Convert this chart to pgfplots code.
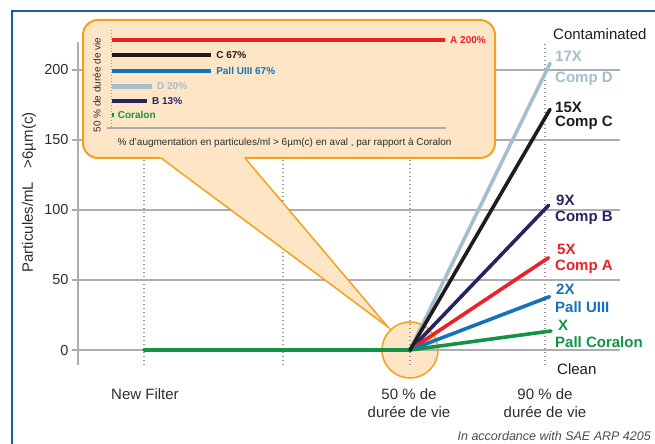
\documentclass[border=0pt]{standalone}
\usepackage{fontspec}
\setmainfont{Liberation Sans}
\usepackage{pgfplots}
\pgfplotsset{compat=1.18}
\definecolor{frameblue}{RGB}{22,92,170}
\definecolor{gridgray}{RGB}{172,173,177}
\definecolor{dotgray}{RGB}{150,150,155}
\definecolor{txt}{RGB}{45,45,45}
\definecolor{cgreen}{RGB}{18,148,70}
\definecolor{cblue}{RGB}{22,114,186}
\definecolor{cred}{RGB}{236,32,39}
\definecolor{cnavy}{RGB}{40,36,100}
\definecolor{cblack}{RGB}{30,28,30}
\definecolor{clight}{RGB}{163,190,204}
\definecolor{corange}{RGB}{246,160,32}
\definecolor{cfill}{RGB}{253,229,198}
\newcommand{\fA}{\fontsize{15bp}{17bp}\selectfont}
\newcommand{\fB}{\fontsize{14.5bp}{16bp}\selectfont}
\newcommand{\fI}{\fontsize{10bp}{11bp}\selectfont}
\newcommand{\fS}{\fontsize{12.5bp}{14bp}\selectfont}
\begin{document}
\begin{tikzpicture}[x=1bp,y=1bp]
\useasboundingbox (0,0) rectangle (655,444);
% frame
\draw[frameblue, line width=2.5bp] (12,0) -- (12,433) -- (655,433);
% highlight circle (behind grid)
\filldraw[fill=cfill, draw=corange, line width=1.5bp] (410,94) circle (28);
\begin{axis}[at={(78bp,79bp)}, anchor=south west, scale only axis,
  width=542bp, height=323bp,
  xmin=78, xmax=620, ymin=-10.7, ymax=220,
  axis lines=left, axis line style={-},
  x axis line style={draw=none},
  y axis line style={gridgray, line width=1.6bp},
  xtick={144,283,410,545}, xticklabels={}, xtick style={draw=none},
  ytick={0,50,100,150,200},
  ytick style={gridgray, line width=1.3bp},
  tick align=outside, major tick length=6bp,
  grid=major,
  x grid style={dotgray, line width=1.3bp, dash pattern=on 1.3bp off 2.7bp},
  y grid style={gridgray, line width=1.3bp},
  yticklabel style={font=\fB, text=txt},
  /pgf/number format/assume math mode=true,
  clip=false]
\addplot[clight, line width=3.6bp, line cap=round, line join=round] coordinates {(410,0) (550,204.8)};
\addplot[cnavy, line width=3.6bp, line cap=round, line join=round] coordinates {(410,0) (548.5,103.3)};
\addplot[cred, line width=3.6bp, line cap=round, line join=round] coordinates {(410,0) (548.5,65.9)};
\addplot[cblue, line width=3.6bp, line cap=round, line join=round] coordinates {(410,0) (549.5,38.1)};
\addplot[cgreen, line width=3.6bp, line cap=round, line join=round] coordinates {(144,0) (410,0) (551,13.6)};
\addplot[cblack, line width=3.6bp, line cap=round, line join=round] coordinates {(410,0) (550,171.9)};
\end{axis}
% callout box
\filldraw[fill=cfill, draw=corange, line width=2bp, rounded corners=15bp] (83,286) rectangle (495,424);
\fill[cfill] (155.6,290) -- (388,117) -- (241.6,290) -- cycle;
\draw[corange, line width=1.5bp] (161,286) -- (388,117) -- (245,286);
% inset bar chart
\begin{axis}[at={(107bp,316bp)}, anchor=south west, scale only axis,
  width=339bp, height=98bp,
  xmin=-3, xmax=200.6, ymin=30, ymax=128, y dir=reverse,
  hide axis, clip=false]
\draw[gridgray, line width=1.3bp] (axis cs:-3,128) -- (axis cs:200.6,128);
\draw[dotgray, line width=1bp, dash pattern=on 1bp off 2bp] (axis cs:0,30) -- (axis cs:0,128);
\addplot[xbar, bar width=4.5bp, bar shift=0pt, fill=cred, draw=none] coordinates {(200,40)};
\addplot[xbar, bar width=4.5bp, bar shift=0pt, fill=cblack, draw=none] coordinates {(59.5,55)};
\addplot[xbar, bar width=4.5bp, bar shift=0pt, fill=cblue, draw=none] coordinates {(59.5,71)};
\addplot[xbar, bar width=4.5bp, bar shift=0pt, fill=clight, draw=none] coordinates {(24,86.5)};
\addplot[xbar, bar width=4.5bp, bar shift=0pt, fill=cnavy, draw=none] coordinates {(21,101)};
\addplot[xbar, bar width=4.5bp, bar shift=0pt, fill=cgreen, draw=none] coordinates {(1,115)};
\node[anchor=west, inner sep=0pt, xshift=5bp, text=cred, font=\fI\bfseries] at (axis cs:200,40) {A 200\%};
\node[anchor=west, inner sep=0pt, xshift=5bp, text=cblack, font=\fI\bfseries] at (axis cs:59.5,55) {C 67\%};
\node[anchor=west, inner sep=0pt, xshift=5bp, text=cblue, font=\fI\bfseries] at (axis cs:59.5,71) {Pall UIII 67\%};
\node[anchor=west, inner sep=0pt, xshift=5bp, text=clight, font=\fI\bfseries] at (axis cs:24,86.5) {D 20\%};
\node[anchor=west, inner sep=0pt, xshift=5bp, text=cnavy, font=\fI\bfseries] at (axis cs:21,101) {B 13\%};
\node[anchor=west, inner sep=0pt, xshift=4bp, text=cgreen, font=\fI\bfseries] at (axis cs:1,115) {Coralon};
\end{axis}
\node[rotate=90, font=\fI, text=txt] at (97,359) {50 \% de durée de vie};
\node[font=\fI, text=txt] at (284.5,301) {\% d’augmentation en particules/ml > 6µm(c) en aval , par rapport à Coralon};
% y label
\node[rotate=90, font=\fA, text=txt] at (29,251.5) {Particules/mL\hspace{0.9em}>6µm(c)};
% right labels
\node[anchor=west, inner sep=0pt, font=\fA, text=cblack] at (553,410) {Contaminated};
\node[anchor=west, inner sep=0pt, font=\fA\bfseries, text=clight] at (555,388) {17X};
\node[anchor=west, inner sep=0pt, font=\fA\bfseries, text=clight] at (555,365) {Comp D};
\node[anchor=west, inner sep=0pt, font=\fA\bfseries, text=cblack] at (555,337) {15X};
\node[anchor=west, inner sep=0pt, font=\fA\bfseries, text=cblack] at (555,321) {Comp C};
\node[anchor=west, inner sep=0pt, font=\fA\bfseries, text=cnavy] at (556,244) {9X};
\node[anchor=west, inner sep=0pt, font=\fA\bfseries, text=cnavy] at (555,226) {Comp B};
\node[anchor=west, inner sep=0pt, font=\fA\bfseries, text=cred] at (557,195) {5X};
\node[anchor=west, inner sep=0pt, font=\fA\bfseries, text=cred] at (555,177) {Comp A};
\node[anchor=west, inner sep=0pt, font=\fA\bfseries, text=cblue] at (556,155) {2X};
\node[anchor=west, inner sep=0pt, font=\fA\bfseries, text=cblue] at (555,137) {Pall UIII};
\node[anchor=west, inner sep=0pt, font=\fA\bfseries, text=cgreen] at (558,119) {X};
\node[anchor=west, inner sep=0pt, font=\fA\bfseries, text=cgreen] at (555,102) {Pall Coralon};
\node[anchor=west, inner sep=0pt, font=\fA, text=cblack] at (557,75) {Clean};
% bottom labels
\node[font=\fA, text=txt] at (145,50) {New Filter};
\node[font=\fA, text=txt] at (409,50) {50 \% de};
\node[font=\fA, text=txt] at (409,32) {durée de vie};
\node[font=\fA, text=txt] at (545,50) {90 \% de};
\node[font=\fA, text=txt] at (545,32) {durée de vie};
\node[anchor=east, inner sep=0pt, font=\fS\itshape, text=txt!85] at (651,8) {In accordance with SAE ARP 4205};
\end{tikzpicture}
\end{document}
